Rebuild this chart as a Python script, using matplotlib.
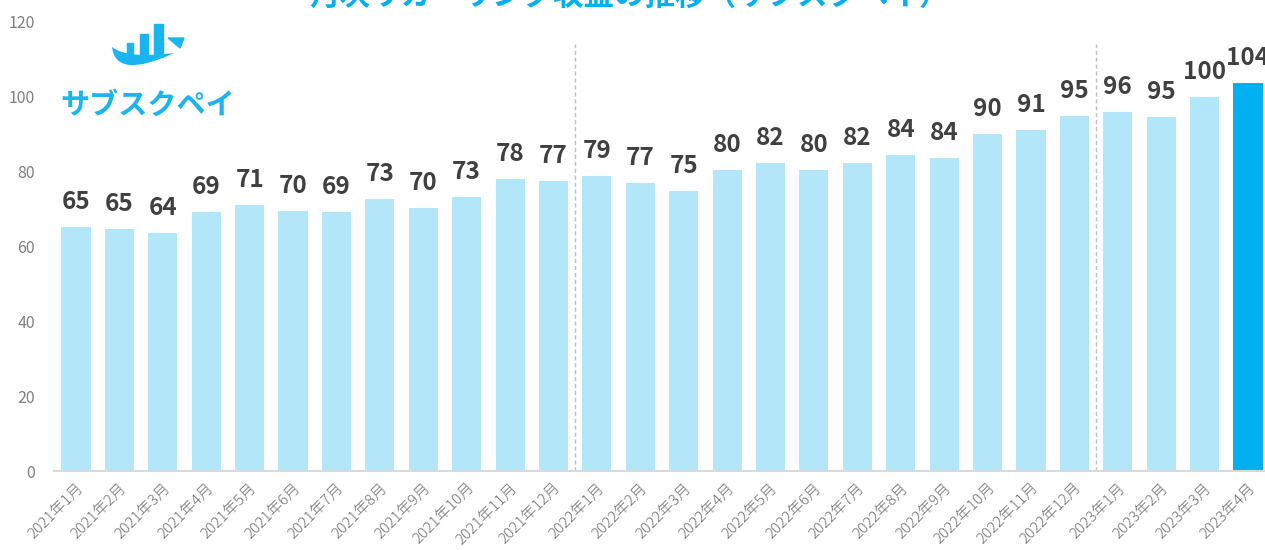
import numpy as np
import matplotlib
matplotlib.use("Agg")
import matplotlib.pyplot as plt
from matplotlib.patches import Rectangle, Polygon, PathPatch
from matplotlib.path import Path

plt.rcParams['font.family'] = ['Noto Sans CJK JP', 'DejaVu Sans']

# Data
months = ["2021年1月", "2021年2月", "2021年3月", "2021年4月", "2021年5月", "2021年6月",
          "2021年7月", "2021年8月", "2021年9月", "2021年10月", "2021年11月", "2021年12月",
          "2022年1月", "2022年2月", "2022年3月", "2022年4月", "2022年5月", "2022年6月",
          "2022年7月", "2022年8月", "2022年9月", "2022年10月", "2022年11月", "2022年12月",
          "2023年1月", "2023年2月", "2023年3月", "2023年4月"]
revenue = [65.2, 64.7, 63.6, 69.2, 71.1, 69.5, 69.2, 72.7, 70.3, 73.3, 78.1, 77.4,
           78.9, 77.0, 74.9, 80.5, 82.4, 80.5, 82.4, 84.4, 83.7, 90.1, 91.2, 94.9,
           96.0, 94.7, 100.0, 103.7]
year_breaks = [11.5, 23.5]
title = "月次リカーリング収益の推移（サブスクペイ）"

light_blue = "#B3E6F8"
strong_blue = "#00B0F0"
label_gray = "#404040"
tick_gray = "#7F7F7F"

W, H = 1265, 550
fig = plt.figure(figsize=(W / 100, H / 100), dpi=100)
ax = fig.add_axes([54.3 / W, 79 / H, 1215.4 / W, 449 / H])

x = np.arange(len(revenue))
colors = [light_blue] * (len(revenue) - 1) + [strong_blue]
ax.bar(x, revenue, width=0.67, color=colors, zorder=2)

for xi, v in zip(x, revenue):
    ax.annotate(f"{v:.0f}", (xi, v), xytext=(0, 13), textcoords="offset points",
                ha="center", va="baseline", fontsize=17.5, fontweight="bold",
                color=label_gray)

for b in year_breaks:
    ax.plot([b, b], [0, 114], color="#BFBFBF", lw=1, ls=(0, (3, 2)), zorder=1)

ax.set_xlim(-0.5, len(revenue) - 0.5)
ax.set_ylim(0, 120)
ax.set_yticks(np.arange(0, 121, 20))
ax.set_xticks(x)
ax.set_xticklabels(months, rotation=45, ha="right", rotation_mode="anchor",
                   fontweight="light")
ax.tick_params(axis="x", length=0, pad=7, labelsize=11, labelcolor="#6F6F6F")
ax.tick_params(axis="y", length=0, pad=14, labelsize=11.5, labelcolor=tick_gray)
for s in ["top", "right", "left"]:
    ax.spines[s].set_visible(False)
ax.spines["bottom"].set_color("#D9D9D9")
ax.spines["bottom"].set_linewidth(1.5)

# title (cut by the top edge)
fig.text(630 / W, 1 - 5 / H, title, ha="center", va="baseline", fontsize=22,
         fontweight="bold", color=strong_blue)

# logo
logo_blue = "#1AB4F0"
fig.text(148 / W, 1 - 114 / H, "サブスクペイ", ha="center", va="baseline",
         fontsize=21, fontweight="bold", color=logo_blue)


def px(xp, yp):
    return (xp / W, 1 - yp / H)


for (x0, y0, w, h) in [(127, 43, 6, 14), (140, 34, 8, 23), (154, 24, 9, 33)]:
    fig.patches.append(Rectangle(px(x0, y0 + h), w / W, h / H, transform=fig.transFigure,
                                 color=logo_blue))
swoosh = Path([px(112, 47), px(116, 80), px(174, 53), px(127, 59), px(112, 47)],
              [Path.MOVETO, Path.CURVE3, Path.CURVE3, Path.CURVE3, Path.CURVE3])
fig.patches.append(PathPatch(swoosh, transform=fig.transFigure, color=logo_blue, lw=0))
fig.patches.append(Polygon([px(168, 38), px(184, 38), px(180, 48)], closed=True,
                           transform=fig.transFigure, color=logo_blue))

fig.savefig("out.png", dpi=100)
